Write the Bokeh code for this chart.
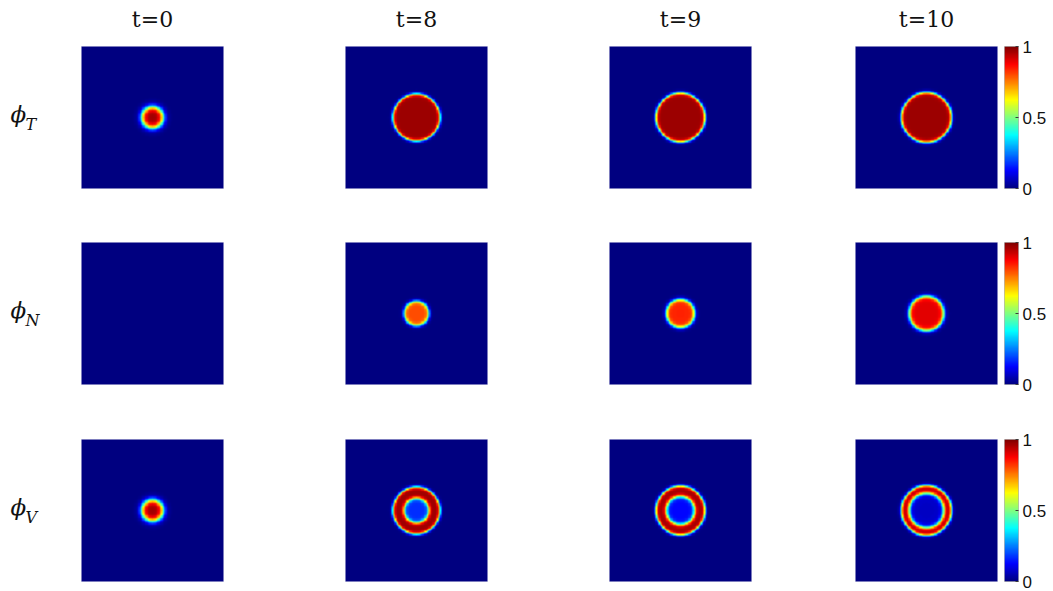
import numpy as np
from bokeh.plotting import figure
from bokeh.models import LinearColorMapper, Range1d, FixedTicker, Label
from bokeh.layouts import row, column
from bokeh.embed import file_html
from bokeh.resources import INLINE

# ---------------- data ----------------
time_labels = ["t=0", "t=8", "t=9", "t=10"]
field_names = ["T", "N", "V"]
cbar_ticks = [0, 0.5, 1]
cbar_labels = ["0", "0.5", "1"]

# circular fronts on the domain [-1, 1] x [-1, 1] (one per time)
tumor_radius = [0.148, 0.331, 0.345, 0.352]
tumor_width = [0.049, 0.023, 0.024, 0.025]
tumor_peak = [0.97, 0.97, 0.97, 0.97]
necrotic_radius = [0.0, 0.173, 0.200, 0.245]
necrotic_width = [0.028, 0.028, 0.031, 0.034]
necrotic_peak = [0.0, 0.80, 0.84, 0.90]

# ---------------- fields ----------------
n = 104
c = -1 + (np.arange(n) + 0.5) * 2.0 / n
X, Y = np.meshgrid(c, c)
Rr = np.sqrt(X ** 2 + Y ** 2)


def front(radius, width, peak):
    if peak == 0:
        return np.zeros_like(Rr)
    return peak * 0.5 * (1 - np.tanh((Rr - radius) / width))


phiT = [front(r, w, a) for r, w, a in zip(tumor_radius, tumor_width, tumor_peak)]
phiN = [front(r, w, a) for r, w, a in zip(necrotic_radius, necrotic_width, necrotic_peak)]
phiV = [np.clip(t - s, 0, 1) for t, s in zip(phiT, phiN)]
all_fields = [phiT, phiN, phiV]


# ---------------- colours ----------------
def jet(m=256):
    v = np.linspace(0, 1, m)
    r = np.clip(1.5 - np.abs(4 * v - 3), 0, 1)
    g = np.clip(1.5 - np.abs(4 * v - 2), 0, 1)
    b = np.clip(1.5 - np.abs(4 * v - 1), 0, 1)
    return ["#%02x%02x%02x" % (int(round(255 * a)), int(round(255 * bb)), int(round(255 * cc)))
            for a, bb, cc in zip(r, g, b)]


palette = jet()

# ---------------- layout ----------------
P = 142
LABEL_W = 81
TITLE_H = 40
left_b = [0, 61, 61, 43]
right_b = [61, 61, 61, 7]
top_b = [46, 40, 40]
bot_b = [14, 15, 10]
CB_W, CB_R = 14, 35


def blank(width, height, lb=0, rb=0, tb=0, bb=0):
    f = figure(width=width, height=height, x_range=Range1d(0, 1), y_range=Range1d(0, 1),
               toolbar_location=None, output_backend="svg",
               x_axis_location=None, y_axis_location=None,
               min_border_left=lb, min_border_right=rb,
               min_border_top=tb, min_border_bottom=bb)
    f.outline_line_color = None
    f.grid.grid_line_color = None
    return f


columns = []

# row-label column
col = []
for ri in range(3):
    H = top_b[ri] + P + bot_b[ri]
    lf = blank(LABEL_W, H, tb=top_b[ri], bb=bot_b[ri])
    lf.add_layout(Label(x=10, y=75, x_units="screen", y_units="screen", text="ϕ",
                        text_font="DejaVu Serif", text_font_style="italic",
                        text_font_size="23px", text_baseline="middle",
                        text_align="left", text_color="#111111"))
    lf.add_layout(Label(x=25, y=64, x_units="screen", y_units="screen",
                        text=field_names[ri], text_font="DejaVu Serif",
                        text_font_style="italic", text_font_size="16px",
                        text_baseline="alphabetic", text_align="left",
                        text_color="#111111"))
    col.append(lf)
columns.append(column(*col))

# image columns, each topped by its time label
for ci in range(4):
    W = left_b[ci] + P + right_b[ci]
    col = []
    head = blank(W, TITLE_H, lb=left_b[ci], rb=right_b[ci])
    head.add_layout(Label(x=P / 2, y=21, x_units="screen", y_units="screen",
                          text=time_labels[ci], text_font="DejaVu Serif",
                          text_font_size="22px", text_align="center",
                          text_baseline="alphabetic", text_color="#111111"))
    col.append(head)
    for ri in range(3):
        tb = top_b[ri] - (TITLE_H if ri == 0 else 0)
        p = figure(width=W, height=tb + P + bot_b[ri],
                   x_range=Range1d(-1, 1), y_range=Range1d(-1, 1),
                   toolbar_location=None, output_backend="svg",
                   x_axis_location=None, y_axis_location=None,
                   min_border_left=left_b[ci], min_border_right=right_b[ci],
                   min_border_top=tb, min_border_bottom=bot_b[ri])
        mapper = LinearColorMapper(palette=palette, low=0, high=1)
        p.image(image=[all_fields[ri][ci]], x=-1, y=-1, dw=2, dh=2, color_mapper=mapper)
        p.grid.grid_line_color = None
        p.outline_line_color = "#a8a8d4"
        p.outline_line_width = 1
        col.append(p)
    columns.append(column(*col))

# colour-bar column
col = []
for ri in range(3):
    H = top_b[ri] + P + bot_b[ri]
    cb = figure(width=CB_W + CB_R, height=H,
                x_range=Range1d(0, 1), y_range=Range1d(0, 1),
                toolbar_location=None, output_backend="svg",
                x_axis_location=None, y_axis_location="right",
                min_border_left=0, min_border_right=CB_R,
                min_border_top=top_b[ri], min_border_bottom=bot_b[ri])
    cmap = LinearColorMapper(palette=palette, low=0, high=1)
    cb.image(image=[np.linspace(0, 1, 256).reshape(256, 1)], x=0, y=0, dw=1, dh=1,
             color_mapper=cmap)
    cb.grid.grid_line_color = None
    cb.outline_line_color = "#b4b4b4"
    ax = cb.yaxis[0]
    ax.ticker = FixedTicker(ticks=cbar_ticks)
    ax.major_label_overrides = {k: v for k, v in zip(cbar_ticks, cbar_labels)}
    ax.axis_line_color = None
    ax.major_tick_in = 3
    ax.major_tick_out = 0
    ax.major_tick_line_color = "#3a3a3a"
    ax.minor_tick_line_color = None
    ax.major_label_standoff = 4
    ax.major_label_text_font = "Liberation Sans"
    ax.major_label_text_font_size = "17px"
    ax.major_label_text_color = "#111111"
    col.append(cb)
columns.append(column(*col))

layout = row(*columns)
open("out.html", "w").write(file_html(layout, INLINE))
